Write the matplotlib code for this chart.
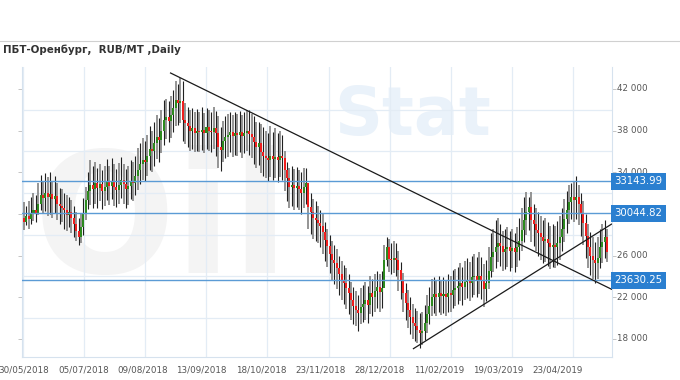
import numpy as np
import matplotlib
matplotlib.use("Agg")
import matplotlib.pyplot as plt
from matplotlib.transforms import blended_transform_factory

# ---------------- data (prices in thousand RUB) ----------------
title = "ПБТ-Оренбург,  RUB/MT ,Daily"
date_labels = ["30/05/2018", "05/07/2018", "09/08/2018", "13/09/2018", "18/10/2018",
               "23/11/2018", "28/12/2018", "11/02/2019", "19/03/2019", "23/04/2019"]
label_every = 25

opens = [
    29.6, 29.2, 29.8, 29.5, 30.1, 30.4, 30.0, 31.0, 31.8, 31.5,
    32.0, 31.6, 31.9, 31.4, 31.7, 31.0, 30.8, 30.6, 30.4, 29.9,
    30.2, 29.6, 29.0, 28.4, 27.8, 28.7, 30.0, 31.3, 32.2, 32.8,
    32.4, 33.0, 32.5, 32.9, 32.2, 32.6, 33.1, 32.7, 33.2, 32.6,
    32.3, 32.8, 33.3, 32.9, 32.4, 32.7, 33.2, 33.0, 33.6, 34.2,
    34.8, 35.2, 35.0, 35.6, 36.2, 36.0, 36.8, 37.4, 37.1, 38.0,
    39.0, 39.3, 38.9, 39.5, 40.2, 40.9, 40.6, 40.8, 39.0, 38.7,
    38.4, 38.0, 38.2, 37.8, 38.0, 37.9, 38.1, 37.8, 38.3, 38.0,
    37.9, 38.2, 37.8, 36.4, 36.1, 37.0, 37.4, 37.6, 37.9, 37.5,
    37.8, 37.6, 37.9, 37.5, 37.8, 38.0, 37.7, 37.4, 36.9, 36.4,
    36.8, 35.9, 35.6, 35.4, 35.2, 35.6, 35.3, 35.5, 35.2, 35.6,
    35.4, 34.2, 33.4, 32.6, 32.8, 32.5, 32.7, 32.4, 32.0, 32.6,
    33.0, 30.7, 30.2, 29.6, 29.4, 29.1, 28.8, 28.3, 27.5, 26.9,
    26.2, 25.6, 25.3, 24.8, 24.2, 23.7, 23.4, 22.9, 22.4, 21.7,
    21.2, 20.8, 20.5, 21.1, 21.4, 21.7, 21.3, 22.4, 22.0, 22.6,
    23.0, 22.5, 22.9, 25.6, 26.8, 25.7, 25.6, 25.8, 25.6, 24.6,
    23.6, 22.4, 21.5, 20.8, 20.1, 19.5, 19.2, 18.9, 18.6, 18.8,
    19.5, 20.4, 21.2, 22.0, 22.3, 22.0, 22.4, 22.1, 22.3, 22.0,
    22.4, 22.2, 22.7, 22.9, 23.1, 23.4, 23.0, 23.5, 23.7, 23.4,
    23.9, 24.0, 23.7, 24.0, 23.6, 22.8, 23.4, 24.5, 25.9, 26.3,
    26.8, 27.2, 26.9, 26.3, 26.6, 26.8, 26.4, 26.7, 26.3, 26.8,
    27.4, 28.5, 29.4, 30.2, 30.7, 29.4, 29.0, 28.5, 28.2, 27.8,
    27.4, 27.6, 27.2, 26.8, 27.0, 26.8, 27.2, 27.8, 28.6, 29.5,
    30.4, 31.1, 31.6, 31.3, 31.6, 31.0, 30.1, 29.1, 27.9, 26.8,
    26.0, 25.6, 25.3, 25.8, 26.8, 27.3, 27.8,
]
closes = [
    29.2, 29.8, 29.5, 30.1, 30.4, 30.0, 31.0, 31.8, 31.5, 32.0,
    31.6, 31.9, 31.4, 31.7, 31.0, 30.8, 30.6, 30.4, 29.9, 30.2,
    29.6, 29.0, 28.4, 27.8, 28.7, 30.0, 31.3, 32.2, 32.8, 32.4,
    33.0, 32.5, 32.9, 32.2, 32.6, 33.1, 32.7, 33.2, 32.6, 32.3,
    32.8, 33.3, 32.9, 32.4, 32.7, 33.2, 33.0, 33.6, 34.2, 34.8,
    35.2, 35.0, 35.6, 36.2, 36.0, 36.8, 37.4, 37.1, 38.0, 39.0,
    39.3, 38.9, 39.5, 40.2, 40.9, 40.6, 40.8, 39.0, 38.7, 38.4,
    38.0, 38.2, 37.8, 38.0, 37.9, 38.1, 37.8, 38.3, 38.0, 37.9,
    38.2, 37.8, 36.4, 36.1, 37.0, 37.4, 37.6, 37.9, 37.5, 37.8,
    37.6, 37.9, 37.5, 37.8, 38.0, 37.7, 37.4, 36.9, 36.4, 36.8,
    35.9, 35.6, 35.4, 35.2, 35.6, 35.3, 35.5, 35.2, 35.6, 35.4,
    34.2, 33.4, 32.6, 32.8, 32.5, 32.7, 32.4, 32.0, 32.6, 33.0,
    30.7, 30.2, 29.6, 29.4, 29.1, 28.8, 28.3, 27.5, 26.9, 26.2,
    25.6, 25.3, 24.8, 24.2, 23.7, 23.4, 22.9, 22.4, 21.7, 21.2,
    20.8, 20.5, 21.1, 21.4, 21.7, 21.3, 22.4, 22.0, 22.6, 23.0,
    22.5, 22.9, 25.6, 26.8, 25.7, 25.6, 25.8, 25.6, 24.6, 23.6,
    22.4, 21.5, 20.8, 20.1, 19.5, 19.2, 18.9, 18.6, 18.8, 19.5,
    20.4, 21.2, 22.0, 22.3, 22.0, 22.4, 22.1, 22.3, 22.0, 22.4,
    22.2, 22.7, 22.9, 23.1, 23.4, 23.0, 23.5, 23.7, 23.4, 23.9,
    24.0, 23.7, 24.0, 23.6, 22.8, 23.4, 24.5, 25.9, 26.3, 26.8,
    27.2, 26.9, 26.3, 26.6, 26.8, 26.4, 26.7, 26.3, 26.8, 27.4,
    28.5, 29.4, 30.2, 30.7, 29.4, 29.0, 28.5, 28.2, 27.8, 27.4,
    27.6, 27.2, 26.8, 27.0, 26.8, 27.2, 27.8, 28.6, 29.5, 30.4,
    31.1, 31.6, 31.3, 31.6, 31.0, 30.1, 29.1, 27.9, 26.8, 26.0,
    25.6, 25.3, 25.8, 26.8, 27.3, 27.8, 26.3,
]
highs = [
    31.1, 30.8, 31.2, 31.6, 32.0, 31.8, 33.0, 33.7, 33.2, 33.9,
    33.5, 34.0, 33.2, 33.6, 33.0, 32.5, 32.4, 32.0, 31.8, 31.6,
    31.3, 30.8, 30.2, 29.6, 30.0, 31.5, 32.6, 34.0, 35.2, 34.6,
    35.0, 34.4, 34.8, 34.2, 34.6, 35.3, 34.6, 35.4, 34.8, 34.3,
    34.9, 35.5, 34.8, 34.3, 34.6, 35.2, 35.0, 35.6, 36.3, 36.8,
    37.3, 37.0, 37.6, 38.4, 38.0, 38.8, 39.5, 39.2, 40.0, 40.9,
    41.0, 40.8, 41.3, 41.9, 42.8, 42.5, 43.0, 42.8, 40.6, 40.3,
    40.0, 40.2, 39.8, 40.1, 39.8, 40.3, 39.7, 40.2, 40.0, 39.8,
    40.3, 39.9, 39.4, 38.3, 38.9, 39.4, 39.6, 39.8, 39.5, 39.8,
    39.6, 39.9, 39.5, 39.8, 40.0, 40.0, 39.6, 39.4, 38.8, 38.8,
    38.6, 38.3, 38.0, 37.8, 38.4, 37.9, 38.2, 37.8, 38.0, 37.6,
    36.0, 35.0, 34.4, 34.6, 34.3, 34.5, 34.2, 34.0, 34.4, 34.4,
    32.6, 32.0, 31.4, 31.2, 30.8, 30.4, 30.0, 29.2, 28.6, 28.0,
    27.4, 27.0, 26.6, 26.0, 25.5, 25.1, 24.8, 24.2, 23.5, 23.0,
    22.6, 22.2, 22.9, 23.2, 23.5, 23.1, 24.0, 23.8, 24.2, 24.5,
    24.2, 24.5, 27.0, 27.8, 27.6, 27.2, 27.4, 27.2, 26.4, 25.4,
    24.3, 23.4, 22.7, 22.0, 21.4, 21.0, 20.7, 20.5, 20.6, 21.3,
    22.2, 23.0, 23.8, 23.9, 23.6, 24.0, 23.7, 23.9, 23.6, 24.2,
    24.0, 24.6, 24.7, 24.9, 25.3, 24.9, 25.5, 25.8, 25.4, 26.0,
    26.2, 25.9, 26.3, 25.9, 25.2, 25.6, 26.8, 28.2, 28.6, 29.4,
    29.6, 29.0, 28.4, 28.6, 28.7, 28.4, 28.6, 28.2, 28.7, 29.6,
    30.6, 31.6, 32.1, 31.6, 32.1, 31.0, 30.6, 30.2, 29.8, 29.4,
    29.6, 29.2, 28.8, 29.0, 28.8, 29.3, 29.8, 30.6, 31.4, 32.2,
    32.8, 33.0, 33.2, 33.6, 32.8, 32.0, 31.2, 30.0, 29.0, 28.3,
    27.8, 27.3, 27.8, 28.6, 29.0, 29.4, 28.6,
]
lows = [
    28.5, 28.9, 28.6, 29.0, 29.3, 29.2, 29.9, 30.4, 30.0, 30.3,
    29.8, 30.0, 29.6, 30.1, 29.4, 29.0, 29.2, 28.6, 28.4, 28.7,
    28.2, 27.8, 27.4, 27.0, 27.2, 28.0, 29.4, 30.5, 30.9, 30.6,
    31.0, 30.6, 31.2, 30.5, 30.8, 31.3, 30.9, 31.4, 30.8, 30.7,
    31.0, 31.5, 31.0, 30.6, 30.9, 31.4, 31.2, 31.8, 32.3, 32.9,
    33.3, 33.2, 33.6, 34.2, 34.0, 34.6, 35.3, 35.0, 35.8, 36.6,
    37.2, 36.9, 37.3, 37.9, 38.4, 38.5, 38.7, 37.0, 36.7, 36.4,
    36.0, 36.2, 35.9, 36.0, 35.9, 36.1, 35.8, 36.2, 36.0, 35.9,
    36.2, 35.6, 34.4, 34.1, 35.0, 35.4, 35.5, 35.9, 35.5, 35.7,
    35.6, 35.9, 35.4, 35.8, 36.0, 35.7, 35.4, 34.8, 34.4, 34.7,
    33.9, 33.6, 33.4, 33.2, 33.5, 33.3, 33.4, 33.1, 33.5, 33.3,
    32.2, 31.2, 30.6, 30.8, 30.4, 30.7, 30.4, 30.0, 30.6, 31.0,
    28.6, 28.1, 27.6, 27.4, 27.2, 26.8, 26.2, 25.5, 24.9, 24.3,
    23.6, 23.3, 22.8, 22.2, 21.7, 21.4, 20.9, 20.4, 19.8, 19.4,
    19.2, 18.8, 19.4, 19.6, 19.8, 19.5, 20.4, 20.2, 20.6, 21.0,
    20.6, 21.0, 24.4, 25.0, 24.4, 24.2, 24.3, 24.0, 22.6, 21.8,
    20.6, 19.8, 19.1, 18.5, 18.0, 17.8, 17.6, 17.1, 17.4, 17.9,
    18.6, 19.4, 20.2, 20.5, 20.2, 20.6, 20.3, 20.5, 20.2, 20.6,
    20.6, 21.0, 21.2, 21.4, 21.6, 21.3, 21.7, 21.9, 21.6, 22.0,
    22.2, 22.0, 22.3, 21.8, 21.1, 21.6, 22.8, 23.9, 24.4, 24.8,
    25.4, 25.0, 24.5, 24.7, 24.9, 24.5, 24.8, 24.4, 24.9, 25.6,
    26.4, 27.3, 28.0, 28.5, 27.3, 26.9, 26.4, 26.0, 25.6, 25.3,
    25.4, 25.0, 24.7, 24.9, 24.8, 25.1, 25.6, 26.4, 27.3, 28.2,
    29.0, 29.5, 29.2, 29.5, 28.9, 27.9, 27.0, 25.8, 24.8, 24.1,
    23.8, 23.4, 23.8, 24.8, 25.3, 25.8, 25.4,
]

levels = [33.14399, 30.04482, 23.63025]
trend_down = [(61.6, 43.55), (248.1, 22.75)]
trend_up = [(164.1, 17.04), (248.1, 29.05)]
price_ticks = [18, 22, 26, 34, 38, 42]      # 30 000 is hidden behind a level box
tick_marks = [18, 22, 26, 30, 34, 38, 42]

# ---------------- figure ----------------
W, H = 680, 380
fig = plt.figure(figsize=(W / 100, H / 100), dpi=100)
fig.patch.set_facecolor("white")

L, R, T, B = 22, 612, 67, 357
ax = fig.add_axes([L / W, 1 - B / H, (R - L) / W, (B - T) / H])
ax.set_facecolor("white")

n = len(closes)
x = np.arange(n)
ax.set_xlim(-0.85, 248.1)
ax.set_ylim(16.27, 44.1)

# watermark (very faint)
ax.text(0.02, 0.45, "Oil", transform=ax.transAxes, fontsize=120, fontweight="bold",
        color="#f4f4f4", ha="left", va="center", zorder=0)
ax.text(0.53, 0.83, "Stat", transform=ax.transAxes, fontsize=48, fontweight="bold",
        color="#eaf2fa", ha="left", va="center", zorder=0)

# grid
for gy in [20, 24, 28, 32, 36, 40]:
    ax.axhline(gy, color="#e3ecf5", lw=0.9, zorder=1)
for k in range(10):
    ax.axvline(-0.5 + 25.8 * k, color="#e3ecf5", lw=0.9, zorder=1)

# wicks
o = np.array(opens); c = np.array(closes); h = np.array(highs); l = np.array(lows)
even = x % 2 == 0
ax.vlines(x[even], l[even], h[even], colors="#8c8c8c", lw=1.3, zorder=3)
ax.vlines(x[~even], l[~even], h[~even], colors="#202020", lw=0.8, zorder=3)

# bodies
up = c >= o
body_h = np.abs(c - o)
ax.bar(x[up], body_h[up], bottom=o[up], width=0.85, color="#2c8a1e", zorder=4, linewidth=0)
ax.bar(x[~up], body_h[~up], bottom=c[~up], width=0.85, color="#f01e1e", zorder=4, linewidth=0)

# levels
for lv in levels:
    ax.axhline(lv, color="#5b9bd5", lw=1.0, zorder=5)

# trend lines
for tl in (trend_down, trend_up):
    ax.plot([tl[0][0], tl[1][0]], [tl[0][1], tl[1][1]], color="#1a1a1a", lw=0.9, zorder=6,
            solid_capstyle="butt")

# spines
for s in ax.spines.values():
    s.set_color("#d6e2ee")
    s.set_linewidth(0.8)
ax.spines["top"].set_visible(False)

# x ticks
ax.set_xticks([i * label_every for i in range(len(date_labels))])
ax.set_xticklabels(date_labels, fontsize=6.3, color="#555555")
ax.tick_params(axis="x", length=0, pad=6)

# y ticks: marks on both sides, labels on the right
ax.set_yticks(tick_marks)
ax.set_yticklabels([""] * len(tick_marks))
ax.tick_params(axis="y", left=True, right=True, labelleft=False, labelright=False,
               length=3, width=0.6, color="#bbbbbb")
tr = blended_transform_factory(ax.transAxes, ax.transData)
for v in price_ticks:
    ax.text(1.008, v, f"{int(v * 1000):,}".replace(",", " "), transform=tr, fontsize=6.3,
            color="#555555", ha="left", va="center", zorder=2)

# level boxes
for lv in levels:
    ax.text(1.0045, lv, f"{lv * 1000:.2f}", transform=tr, fontsize=7.3, color="white",
            ha="left", va="center", zorder=10,
            bbox=dict(boxstyle="square,pad=0.34", fc="#2a7fd0", ec="none"))

# title and separator
fig.text(3 / W, 1 - 50 / H, title, fontsize=7.4, fontweight="bold", color="#333333",
         ha="left", va="center")
fig.add_artist(plt.Line2D([0, 1], [1 - 41 / H, 1 - 41 / H], color="#d0d0d0", lw=0.8))

fig.savefig("out.png", dpi=100, facecolor="white")
